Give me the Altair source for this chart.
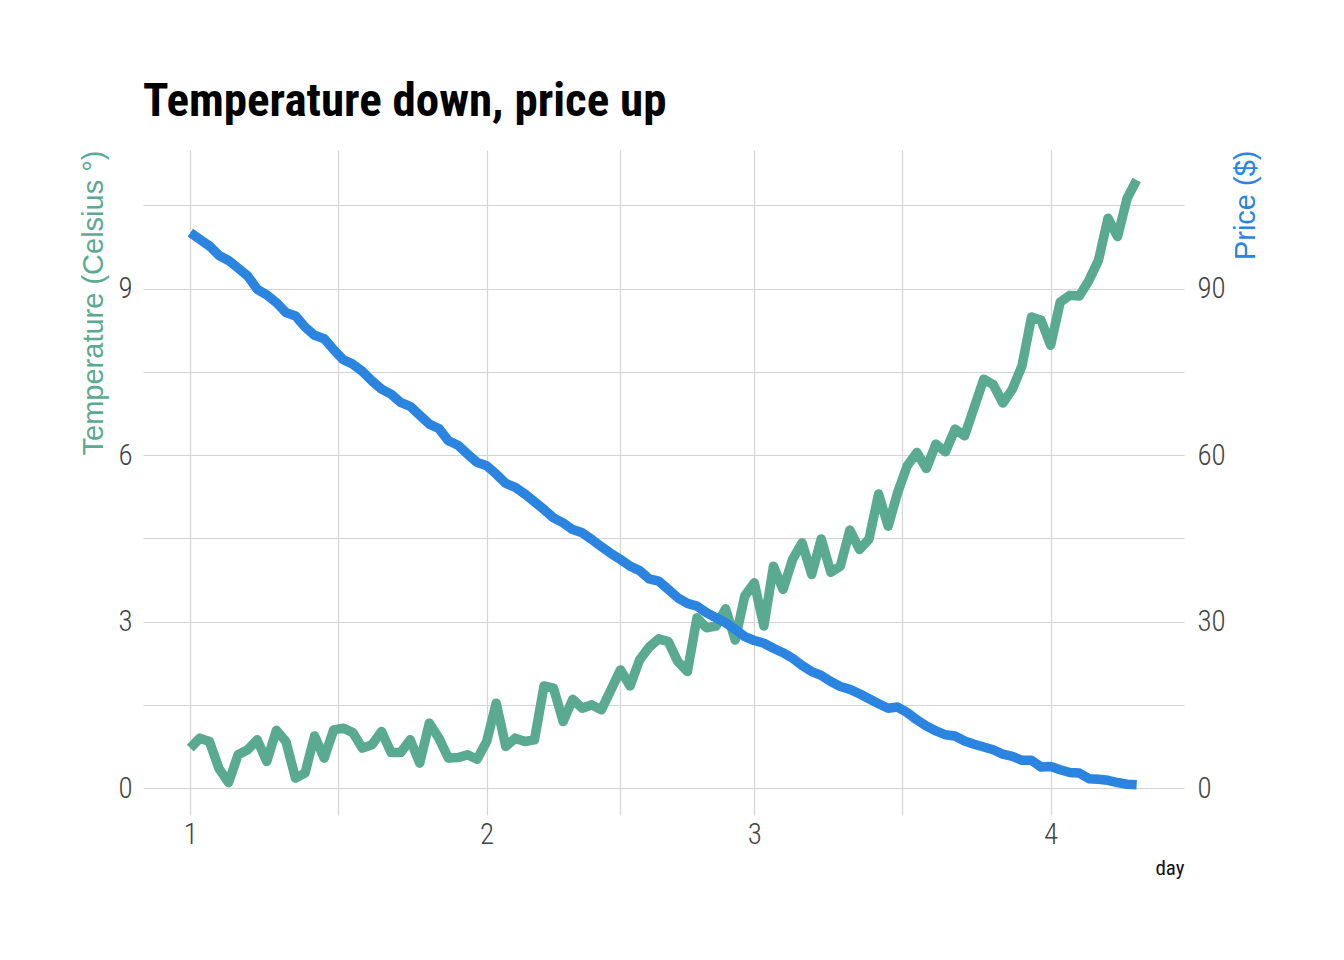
import altair as alt
import pandas as pd

# ---- data ----
days = pd.date_range("2019-01-01", periods=100, freq="D").strftime("%Y-%m-%d").tolist()

temperature = [
    0.72, 0.90, 0.84, 0.35, 0.10, 0.60, 0.69, 0.87, 0.48, 1.04,
    0.84, 0.18, 0.27, 0.94, 0.54, 1.05, 1.08, 1.00, 0.72, 0.78,
    1.02, 0.64, 0.64, 0.87, 0.45, 1.17, 0.90, 0.54, 0.55, 0.60,
    0.52, 0.84, 1.53, 0.75, 0.90, 0.84, 0.87, 1.84, 1.80, 1.20,
    1.60, 1.44, 1.50, 1.41, 1.77, 2.13, 1.84, 2.31, 2.54, 2.69,
    2.64, 2.28, 2.10, 3.07, 2.89, 2.92, 3.23, 2.67, 3.46, 3.70,
    2.92, 4.00, 3.58, 4.12, 4.42, 3.85, 4.49, 3.89, 4.00, 4.65,
    4.30, 4.49, 5.30, 4.72, 5.33, 5.81, 6.05, 5.76, 6.20, 6.06,
    6.47, 6.35, 6.86, 7.37, 7.27, 6.94, 7.19, 7.61, 8.49, 8.43,
    7.98, 8.76, 8.88, 8.87, 9.15, 9.51, 10.27, 9.94, 10.63, 10.96,
]

price = [
    100.1, 98.9, 97.7, 96.0, 95.1, 93.7, 92.3, 89.9, 88.9, 87.5,
    85.7, 85.1, 83.1, 81.6, 81.0, 79.0, 77.2, 76.4, 75.1, 73.4,
    71.9, 71.0, 69.5, 68.8, 67.2, 65.6, 64.8, 62.6, 61.8, 60.2,
    58.7, 58.1, 56.6, 54.9, 54.2, 53.0, 51.6, 50.2, 48.7, 47.8,
    46.6, 46.0, 44.8, 43.5, 42.3, 41.2, 40.0, 39.2, 37.7, 37.3,
    35.8, 34.3, 33.3, 32.8, 31.6, 30.7, 29.8, 28.6, 27.3, 26.6,
    26.1, 25.2, 24.4, 23.4, 22.1, 21.0, 20.3, 19.2, 18.3, 17.8,
    17.0, 16.1, 15.2, 14.4, 14.6, 13.6, 12.3, 11.2, 10.3, 9.6,
    9.4, 8.5, 7.9, 7.4, 6.9, 6.1, 5.7, 5.0, 5.0, 3.8,
    3.9, 3.3, 2.8, 2.7, 1.7, 1.6, 1.4, 1.0, 0.7, 0.6,
]

temp_ticks = [0, 1.5, 3, 4.5, 6, 7.5, 9, 10.5]
price_ticks = [0, 15, 30, 45, 60, 75, 90, 105]
# (month, date, hour) of major (1st of month) and minor (mid-month) x grid lines
x_ticks = [(1, 1, 0), (1, 16, 12), (2, 1, 0), (2, 15, 0), (3, 1, 0), (3, 16, 12), (4, 1, 0)]

df = pd.DataFrame({"day": days, "temperature": temperature, "price": price})

FONT = "Liberation Sans Narrow, Arial Narrow, Roboto Condensed, sans-serif"
TFONT = "Liberation Sans, Arial, Helvetica, sans-serif"
GREEN = "#5aaa92"
BLUE = "#2a84e0"
COEFF = 10
Y_DOM = [-0.485, 11.5]

x_values = [alt.DateTime(year=2019, month=m, date=d, hours=h, utc=True) for m, d, h in x_ticks]

x_enc = alt.X(
    "day:T",
    scale=alt.Scale(
        type="utc",
        domain=[
            alt.DateTime(year=2018, month=12, date=27, hours=1, minutes=12, utc=True),
            alt.DateTime(year=2019, month=4, date=14, hours=22, minutes=48, utc=True),
        ],
    ),
    axis=alt.Axis(
        title="day",
        values=x_values,
        labelExpr="utcdate(datum.value) == 1 ? '' + (utcmonth(datum.value) + 1) : ''",
        grid=True,
        ticks=False,
        domain=False,
        labelPadding=5,
        titleAnchor="end",
        titleFont=FONT,
        titleFontSize=21,
        titleFontWeight="normal",
        titleColor="#111111",
        titlePadding=8,
    ),
)

temp_line = alt.Chart(df).mark_line(
    color=GREEN, strokeWidth=9.5, strokeJoin="round", strokeCap="butt"
).encode(
    x=x_enc,
    y=alt.Y(
        "temperature:Q",
        scale=alt.Scale(domain=Y_DOM, nice=False, zero=False),
        axis=alt.Axis(
            title="Temperature (Celsius °)",
            orient="left",
            values=temp_ticks,
            labelExpr="datum.value % 3 === 0 ? format(datum.value, 'd') : ''",
            grid=True,
            ticks=False,
            domain=False,
            labelPadding=11,
            titleAnchor="end",
            titleAngle=270,
            titleColor=GREEN,
            titleFont=TFONT,
            titleFontSize=29,
            titleFontWeight="normal",
            titlePadding=9,
        ),
    ),
)

price_line = alt.Chart(df).mark_line(
    color=BLUE, strokeWidth=9.5, strokeJoin="round", strokeCap="butt"
).encode(
    x=x_enc,
    y=alt.Y(
        "price:Q",
        scale=alt.Scale(domain=[Y_DOM[0] * COEFF, Y_DOM[1] * COEFF], nice=False, zero=False),
        axis=alt.Axis(
            title="Price ($)",
            orient="right",
            values=price_ticks,
            labelExpr="datum.value % 30 === 0 ? format(datum.value, 'd') : ''",
            grid=False,
            ticks=False,
            domain=False,
            labelPadding=13,
            titleAnchor="end",
            titleAngle=270,
            titleColor=BLUE,
            titleFont=TFONT,
            titleFontSize=29,
            titleFontWeight="normal",
            titlePadding=35,
        ),
    ),
)

chart = (
    alt.layer(temp_line, price_line)
    .resolve_scale(y="independent")
    .properties(
        width=1041,
        height=665,
        autosize=alt.AutoSizeParams(type="none"),
        padding={"left": 135, "top": 142, "right": 152, "bottom": 137},
        title=alt.TitleParams(
            "Temperature down, price up",
            anchor="start",
            frame="group",
            font=FONT,
            fontSize=47,
            fontWeight="bold",
            color="#000000",
            offset=24,
        ),
    )
    .configure_view(stroke=None)
    .configure_axis(
        labelFont=FONT,
        labelFontSize=29,
        labelFontWeight=300,
        labelColor="#444444",
        gridColor="#d4d4d4",
        gridWidth=1.2,
    )
)

chart.save("out.html", embed_options={"renderer": "svg", "actions": False})
